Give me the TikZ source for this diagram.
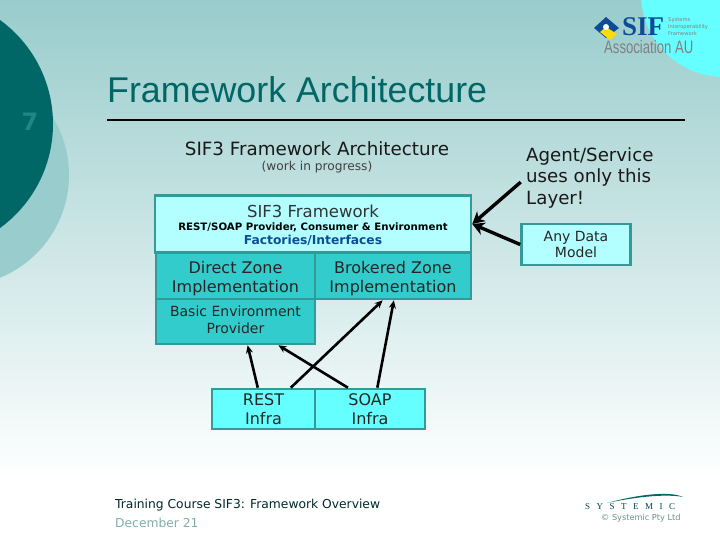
\documentclass[tikz,border=0pt]{standalone}
\usepackage{fontspec}
\setmainfont{DejaVu Sans}
\newfontfamily\titlefont{Liberation Sans}
\newfontfamily\logofont{Liberation Serif}
\usetikzlibrary{arrows.meta}
\definecolor{bgtop}{HTML}{99CCCC}
\definecolor{darkteal}{HTML}{006666}
\definecolor{paleteal}{HTML}{99CCCC}
\definecolor{edgeteal}{HTML}{339999}
\definecolor{zoneteal}{HTML}{33CCCC}
\definecolor{infracyan}{HTML}{66FFFF}
\definecolor{frameblue}{HTML}{B3FFFF}
\definecolor{sifblue}{HTML}{0F4C96}
\tikzset{
    box/.style={draw=edgeteal, line width=2.6pt, inner sep=0pt, align=center, text=black!85,
        font=\fontsize{16}{19}\selectfont},
    boxtext/.style={inner sep=0pt, align=center, text=black!85, font=\fontsize{16}{19}\selectfont},
    link/.style={draw=black, line width=2.6pt, -{Stealth[length=8pt,width=7pt]}},
    biglink/.style={draw=black, line width=3.4pt, -{Stealth[length=12pt,width=13pt]}},
    note/.style={align=left, anchor=north west, inner sep=0pt, text=black!90, font=\fontsize{18.2}{21.5}\selectfont},
    footer/.style={anchor=west, inner sep=0pt, font=\fontsize{12.3}{14}\selectfont}
}
\begin{document}
\begin{tikzpicture}[x=1pt,y=-1pt]
    \useasboundingbox (0,0) rectangle (720,540);
    % Fond
    \shade[top color=bgtop, bottom color=white] (0,0) rectangle (720,480);
    \fill[white] (0,480) rectangle (720,540);
    \begin{scope}
        \clip (0,0) rectangle (720,540);
        \fill[paleteal] (-42,175) circle (111);
        \fill[darkteal] (-75.5,124) circle (128.5);
        \fill[infracyan] (724,-6) circle (83);
    \end{scope}
    \node[text=edgeteal!60!darkteal, font=\bfseries\fontsize{24}{24}\selectfont] (pagenum) at (30,122) {7};
    % Titre
    \node[anchor=west, inner sep=0pt, text=darkteal, font=\titlefont\fontsize{35.8}{36}\selectfont] (title) at (107,90) {Framework Architecture};
    \draw[line width=1.5pt] (107,120) -- (685,120);
    \node[text=black!90, font=\fontsize{18.3}{21}\selectfont] (heading) at (317,149) {SIF3 Framework Architecture};
    \node[text=black!75, font=\fontsize{12.2}{14}\selectfont] (wip) at (317,167) {(work in progress)};
    % Boites
    \node[box, fill=frameblue, minimum width=316pt, minimum height=57pt] (framework) at (313,224) {};
    \node[text=black!80, font=\fontsize{16.5}{18}\selectfont] (frameworktxt) at (313,211) {SIF3 Framework};
    \node[text=black, font=\bfseries\fontsize{10.2}{12}\selectfont] (provider) at (313,227) {REST/SOAP Provider, Consumer \& Environment};
    \node[text=sifblue, font=\bfseries\fontsize{12.3}{14}\selectfont] (factories) at (313,240) {Factories/Interfaces};
    \node[box, fill=zoneteal, minimum width=159pt, minimum height=46pt] (direct) at (235.5,276) {};
    \node[boxtext] (directtxt) at (235.5,279) {Direct Zone\\Implementation};
    \node[box, fill=zoneteal, minimum width=156pt, minimum height=46pt] (brokered) at (393,276) {};
    \node[boxtext] (brokeredtxt) at (393,279) {Brokered Zone\\Implementation};
    \node[box, fill=zoneteal, minimum width=159pt, minimum height=45pt] (basic) at (235.5,321.5) {};
    \node[boxtext, font=\fontsize{14}{17}\selectfont] (basictxt) at (235.5,319.5) {Basic Environment\\Provider};
    \node[box, fill=infracyan, minimum width=103pt, minimum height=40pt] (rest) at (263.5,409) {REST\\Infra};
    \node[box, fill=infracyan, minimum width=110pt, minimum height=40pt] (soap) at (370,409) {SOAP\\Infra};
    \node[box, fill=frameblue, minimum width=109pt, minimum height=41pt, font=\fontsize{14}{16}\selectfont] (datamodel) at (576,244.5) {Any Data\\Model};
    \node[note] (agent) at (526,147) {Agent/Service\\uses only this\\Layer!};
    % Fleches
    \draw[link] (rest.105) -- (basic.297);
    \draw[link] (rest.38) -- (brokered.247);
    \draw[link] (soap.136) -- (basic.331);
    \draw[link] (soap.71) -- (brokered.272);
    \draw[biglink, shorten <=7pt] (agent.west) -- (framework.east);
    \draw[biglink] (datamodel.west) -- (framework.east);
    % Logo SIF
    \fill[sifblue] (594,28) -- (606,17) -- (619,28) -- (606,38) -- cycle;
    \fill[yellow!80!orange] (600,32) -- (606,27) -- (617,34) -- (610,40) -- cycle;
    \fill[white] (606,27) circle (3);
    \node[anchor=west, inner sep=0pt, text=sifblue, font=\logofont\bfseries\fontsize{27}{27}\selectfont] (sif) at (622,27) {SIF};
    \node[anchor=west, inner sep=0pt, align=left, text=black!50, font=\fontsize{5.2}{7}\selectfont] (sifsub) at (668,27) {Systems\\Interoperability\\Framework};
    \node[anchor=west, inner sep=0pt, text=black!50, font=\titlefont\fontsize{18}{18}\selectfont] (assoc) at (604,47) {\scalebox{0.73}[1]{Association AU}};
    % Pied de page
    \node[footer, text=darkteal!40!black] (course) at (115,505) {Training Course SIF3: Framework Overview};
    \node[footer, text=paleteal!85!black] (date) at (115,523) {December 21};
    % Logo Systemic
    \node[anchor=west, inner sep=0pt, text=darkteal!70!black, font=\logofont\fontsize{9}{9}\selectfont] (systemic) at (585,507) {S\hspace{6.5pt}Y\hspace{6.5pt}S\hspace{6.5pt}T\hspace{6.5pt}E\hspace{6.5pt}M\hspace{6.5pt}I\hspace{6.5pt}C};
    \fill[darkteal] (607,503) .. controls (640,494) and (670,491) .. (683,497) .. controls (668,494) and (640,496) .. (607,503);
    \node[anchor=west, inner sep=0pt, text=paleteal!70!black, font=\fontsize{8.2}{9}\selectfont] (copyright) at (601,518) {© Systemic Pty Ltd};
\end{tikzpicture}
\end{document}
